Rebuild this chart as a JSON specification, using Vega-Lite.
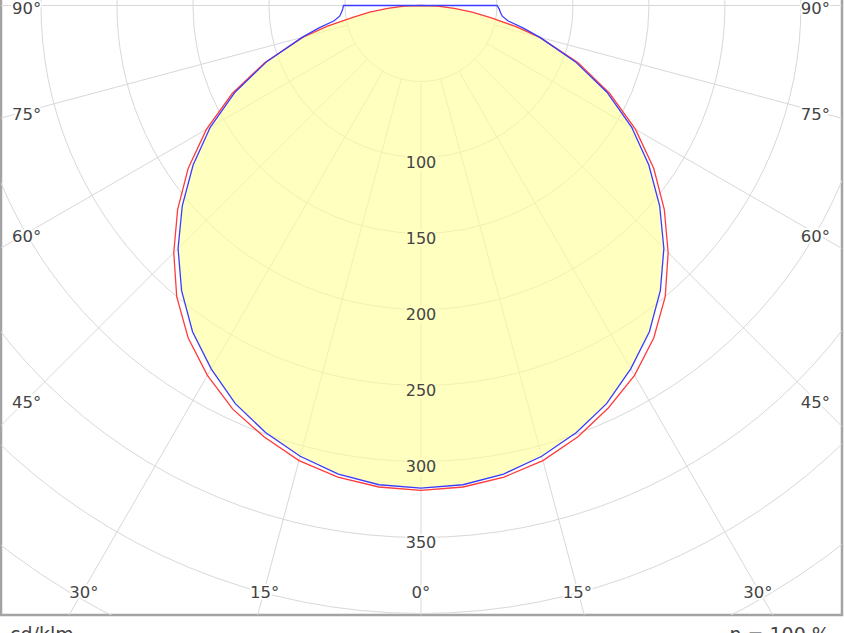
{
  "$schema": "https://vega.github.io/schema/vega-lite/v6.json",
  "width": 841,
  "height": 617,
  "autosize": "none",
  "padding": {"left": 1, "top": -2, "right": 2, "bottom": 18},
  "background": "white",
  "config": {"view": {"stroke": "#a3a3a3", "strokeWidth": 2.5}, "font": "DejaVu Sans"},
  "datasets": {
    "ldc": [
      {"series": "C0-C180", "angle": -90, "cd": 0},
      {"series": "C0-C180", "angle": -87.5, "cd": 11},
      {"series": "C0-C180", "angle": -85, "cd": 22},
      {"series": "C0-C180", "angle": -82.5, "cd": 34},
      {"series": "C0-C180", "angle": -80, "cd": 46},
      {"series": "C0-C180", "angle": -77.5, "cd": 63},
      {"series": "C0-C180", "angle": -75, "cd": 80},
      {"series": "C0-C180", "angle": -70, "cd": 109},
      {"series": "C0-C180", "angle": -65, "cd": 137},
      {"series": "C0-C180", "angle": -60, "cd": 163},
      {"series": "C0-C180", "angle": -55, "cd": 187},
      {"series": "C0-C180", "angle": -50, "cd": 209},
      {"series": "C0-C180", "angle": -45, "cd": 230},
      {"series": "C0-C180", "angle": -40, "cd": 250},
      {"series": "C0-C180", "angle": -35, "cd": 267},
      {"series": "C0-C180", "angle": -30, "cd": 281},
      {"series": "C0-C180", "angle": -25, "cd": 293},
      {"series": "C0-C180", "angle": -20, "cd": 302},
      {"series": "C0-C180", "angle": -15, "cd": 310},
      {"series": "C0-C180", "angle": -10, "cd": 315},
      {"series": "C0-C180", "angle": -5, "cd": 318},
      {"series": "C0-C180", "angle": 0, "cd": 319},
      {"series": "C0-C180", "angle": 5, "cd": 318},
      {"series": "C0-C180", "angle": 10, "cd": 315},
      {"series": "C0-C180", "angle": 15, "cd": 310},
      {"series": "C0-C180", "angle": 20, "cd": 302},
      {"series": "C0-C180", "angle": 25, "cd": 292},
      {"series": "C0-C180", "angle": 30, "cd": 281},
      {"series": "C0-C180", "angle": 35, "cd": 267},
      {"series": "C0-C180", "angle": 40, "cd": 250},
      {"series": "C0-C180", "angle": 45, "cd": 230},
      {"series": "C0-C180", "angle": 50, "cd": 209},
      {"series": "C0-C180", "angle": 55, "cd": 187},
      {"series": "C0-C180", "angle": 60, "cd": 163},
      {"series": "C0-C180", "angle": 65, "cd": 137},
      {"series": "C0-C180", "angle": 70, "cd": 110},
      {"series": "C0-C180", "angle": 75, "cd": 81},
      {"series": "C0-C180", "angle": 77.5, "cd": 64},
      {"series": "C0-C180", "angle": 80, "cd": 47},
      {"series": "C0-C180", "angle": 82.5, "cd": 34},
      {"series": "C0-C180", "angle": 85, "cd": 22},
      {"series": "C0-C180", "angle": 87.5, "cd": 11},
      {"series": "C0-C180", "angle": 90, "cd": 0},
      {"series": "C90-C270", "angle": -90, "cd": 51},
      {"series": "C90-C270", "angle": -87.5, "cd": 51.5},
      {"series": "C90-C270", "angle": -85, "cd": 52.5},
      {"series": "C90-C270", "angle": -82.5, "cd": 54},
      {"series": "C90-C270", "angle": -80, "cd": 58},
      {"series": "C90-C270", "angle": -77.5, "cd": 69},
      {"series": "C90-C270", "angle": -75, "cd": 81},
      {"series": "C90-C270", "angle": -70, "cd": 108},
      {"series": "C90-C270", "angle": -65, "cd": 135},
      {"series": "C90-C270", "angle": -60, "cd": 160},
      {"series": "C90-C270", "angle": -55, "cd": 183},
      {"series": "C90-C270", "angle": -50, "cd": 205},
      {"series": "C90-C270", "angle": -45, "cd": 226},
      {"series": "C90-C270", "angle": -40, "cd": 245},
      {"series": "C90-C270", "angle": -35, "cd": 262},
      {"series": "C90-C270", "angle": -30, "cd": 276},
      {"series": "C90-C270", "angle": -25, "cd": 289},
      {"series": "C90-C270", "angle": -20, "cd": 299},
      {"series": "C90-C270", "angle": -15, "cd": 307},
      {"series": "C90-C270", "angle": -10, "cd": 313},
      {"series": "C90-C270", "angle": -5, "cd": 316.5},
      {"series": "C90-C270", "angle": 0, "cd": 317.5},
      {"series": "C90-C270", "angle": 5, "cd": 316.5},
      {"series": "C90-C270", "angle": 10, "cd": 313},
      {"series": "C90-C270", "angle": 15, "cd": 307},
      {"series": "C90-C270", "angle": 20, "cd": 299},
      {"series": "C90-C270", "angle": 25, "cd": 289},
      {"series": "C90-C270", "angle": 30, "cd": 276},
      {"series": "C90-C270", "angle": 35, "cd": 262},
      {"series": "C90-C270", "angle": 40, "cd": 245},
      {"series": "C90-C270", "angle": 45, "cd": 226},
      {"series": "C90-C270", "angle": 50, "cd": 205},
      {"series": "C90-C270", "angle": 55, "cd": 183},
      {"series": "C90-C270", "angle": 60, "cd": 160},
      {"series": "C90-C270", "angle": 65, "cd": 135},
      {"series": "C90-C270", "angle": 70, "cd": 108},
      {"series": "C90-C270", "angle": 75, "cd": 81},
      {"series": "C90-C270", "angle": 77.5, "cd": 69},
      {"series": "C90-C270", "angle": 80, "cd": 58},
      {"series": "C90-C270", "angle": 82.5, "cd": 54},
      {"series": "C90-C270", "angle": 85, "cd": 52.5},
      {"series": "C90-C270", "angle": 87.5, "cd": 51.5},
      {"series": "C90-C270", "angle": 90, "cd": 50}
    ],
    "rings": [{"r": 50}, {"r": 100}, {"r": 150}, {"r": 200}, {"r": 250}, {"r": 300}, {"r": 350}, {"r": 400}, {"r": 450}, {"r": 500}],
    "spokes": [{"angle": -90}, {"angle": -75}, {"angle": -60}, {"angle": -45}, {"angle": -30}, {"angle": -15}, {"angle": 0}, {"angle": 15}, {"angle": 30}, {"angle": 45}, {"angle": 60}, {"angle": 75}, {"angle": 90}],
    "angleLabels": [
      {"angle": -90, "label": "90°"}, {"angle": -75, "label": "75°"}, {"angle": -60, "label": "60°"}, {"angle": -45, "label": "45°"}, {"angle": -30, "label": "30°"}, {"angle": -15, "label": "15°"}, {"angle": 0, "label": "0°"},
      {"angle": 15, "label": "15°"}, {"angle": 30, "label": "30°"}, {"angle": 45, "label": "45°"}, {"angle": 60, "label": "60°"}, {"angle": 75, "label": "75°"}, {"angle": 90, "label": "90°"}
    ],
    "ringLabels": [{"r": 100, "label": "100"}, {"r": 150, "label": "150"}, {"r": 200, "label": "200"}, {"r": 250, "label": "250"}, {"r": 300, "label": "300"}, {"r": 350, "label": "350"}]
  },
  "layer": [
    {
      "data": {"name": "rings"},
      "mark": {"type": "point", "shape": "circle", "filled": false, "stroke": "#d8d8d8", "strokeWidth": 1, "opacity": 1, "clip": true},
      "encoding": {
        "x": {"datum": 0, "type": "quantitative", "scale": {"domain": [-276.3, 277.0], "nice": false, "zero": false}, "axis": null},
        "y": {"datum": 0, "type": "quantitative", "scale": {"domain": [-4.93, 401], "reverse": true, "nice": false, "zero": false}, "axis": null},
        "size": {"field": "r", "type": "quantitative", "scale": {"type": "pow", "exponent": 2, "domain": [0, 400], "range": [0, 1478656], "zero": true}, "legend": null}
      }
    },
    {
      "data": {"name": "spokes"},
      "transform": [
        {"calculate": "50 * sin(datum.angle * PI / 180)", "as": "x1"},
        {"calculate": "50 * cos(datum.angle * PI / 180)", "as": "y1"},
        {"calculate": "1500 * sin(datum.angle * PI / 180)", "as": "x2"},
        {"calculate": "1500 * cos(datum.angle * PI / 180)", "as": "y2"}
      ],
      "mark": {"type": "rule", "stroke": "#d8d8d8", "strokeWidth": 1, "clip": true},
      "encoding": {
        "x": {"field": "x1", "type": "quantitative", "scale": {"domain": [-276.3, 277.0], "nice": false, "zero": false}, "axis": null},
        "y": {"field": "y1", "type": "quantitative", "scale": {"domain": [-4.93, 401], "reverse": true, "nice": false, "zero": false}, "axis": null},
        "x2": {"field": "x2"},
        "y2": {"field": "y2"}
      }
    },
    {
      "data": {"name": "ldc"},
      "transform": [
        {"aggregate": [{"op": "min", "field": "cd", "as": "cd"}], "groupby": ["angle"]},
        {"calculate": "datum.cd * sin(datum.angle * PI / 180)", "as": "X"},
        {"calculate": "datum.cd * cos(datum.angle * PI / 180)", "as": "Y"}
      ],
      "mark": {"type": "line", "fill": "#ffff99", "fillOpacity": 0.62, "strokeWidth": 0, "interpolate": "linear-closed", "clip": true},
      "encoding": {
        "x": {"field": "X", "type": "quantitative", "scale": {"domain": [-276.3, 277.0], "nice": false, "zero": false}, "axis": null},
        "y": {"field": "Y", "type": "quantitative", "scale": {"domain": [-4.93, 401], "reverse": true, "nice": false, "zero": false}, "axis": null},
        "order": {"field": "angle", "type": "quantitative"}
      }
    },
    {
      "data": {"name": "ldc"},
      "transform": [
        {"calculate": "datum.cd * sin(datum.angle * PI / 180)", "as": "X"},
        {"calculate": "datum.cd * cos(datum.angle * PI / 180)", "as": "Y"}
      ],
      "mark": {"type": "line", "strokeWidth": 1.3, "interpolate": "linear-closed", "clip": true},
      "encoding": {
        "x": {"field": "X", "type": "quantitative", "scale": {"domain": [-276.3, 277.0], "nice": false, "zero": false}, "axis": null},
        "y": {"field": "Y", "type": "quantitative", "scale": {"domain": [-4.93, 401], "reverse": true, "nice": false, "zero": false}, "axis": null},
        "color": {"field": "series", "type": "nominal", "scale": {"domain": ["C0-C180", "C90-C270"], "range": ["#ff3b3b", "#3b3bff"]}, "legend": null},
        "order": {"field": "angle", "type": "quantitative"}
      }
    },
    {
      "data": {"name": "ringLabels"},
      "mark": {"type": "text", "fontSize": 16, "baseline": "middle", "align": "center", "dy": 6, "strokeWidth": 4, "strokeJoin": "round"},
      "encoding": {
        "x": {"datum": 0, "type": "quantitative", "scale": {"domain": [-276.3, 277.0], "nice": false, "zero": false}, "axis": null},
        "y": {"field": "r", "type": "quantitative", "scale": {"domain": [-4.93, 401], "reverse": true, "nice": false, "zero": false}, "axis": null},
        "text": {"field": "label"},
        "stroke": {"condition": {"test": "datum.r <= 300", "value": "#ffffc2"}, "value": "#ffffff"},
        "fill": {"condition": {"test": "datum.r <= 300", "value": "#ffffc2"}, "value": "#ffffff"}
      }
    },
    {
      "data": {"name": "ringLabels"},
      "mark": {"type": "text", "fontSize": 16, "baseline": "middle", "align": "center", "dy": 6, "fill": "#444444"},
      "encoding": {
        "x": {"datum": 0, "type": "quantitative", "scale": {"domain": [-276.3, 277.0], "nice": false, "zero": false}, "axis": null},
        "y": {"field": "r", "type": "quantitative", "scale": {"domain": [-4.93, 401], "reverse": true, "nice": false, "zero": false}, "axis": null},
        "text": {"field": "label"}
      }
    },
    {
      "data": {"name": "angleLabels"},
      "transform": [
        {"calculate": "abs(datum.angle) >= 35 ? (datum.angle < 0 ? -259.5 : 259.5) : 384 * tan(datum.angle * PI / 180)", "as": "X"},
        {"calculate": "abs(datum.angle) >= 35 ? 259.5 / tan(abs(datum.angle) * PI / 180) : 384", "as": "Y"}
      ],
      "mark": {"type": "text", "fontSize": 16.5, "baseline": "middle", "align": "center", "dy": 3.5, "fill": "#ffffff", "stroke": "#ffffff", "strokeWidth": 4, "strokeJoin": "round"},
      "encoding": {
        "x": {"field": "X", "type": "quantitative", "scale": {"domain": [-276.3, 277.0], "nice": false, "zero": false}, "axis": null},
        "y": {"field": "Y", "type": "quantitative", "scale": {"domain": [-4.93, 401], "reverse": true, "nice": false, "zero": false}, "axis": null},
        "text": {"field": "label"}
      }
    },
    {
      "data": {"name": "angleLabels"},
      "transform": [
        {"calculate": "abs(datum.angle) >= 35 ? (datum.angle < 0 ? -259.5 : 259.5) : 384 * tan(datum.angle * PI / 180)", "as": "X"},
        {"calculate": "abs(datum.angle) >= 35 ? 259.5 / tan(abs(datum.angle) * PI / 180) : 384", "as": "Y"}
      ],
      "mark": {"type": "text", "fontSize": 16.5, "baseline": "middle", "align": "center", "dy": 3.5, "fill": "#444444"},
      "encoding": {
        "x": {"field": "X", "type": "quantitative", "scale": {"domain": [-276.3, 277.0], "nice": false, "zero": false}, "axis": null},
        "y": {"field": "Y", "type": "quantitative", "scale": {"domain": [-4.93, 401], "reverse": true, "nice": false, "zero": false}, "axis": null},
        "text": {"field": "label"}
      }
    },
    {
      "data": {"values": [{"label": "cd/klm"}]},
      "mark": {"type": "text", "fontSize": 19, "baseline": "alphabetic", "align": "left", "fill": "#444444", "clip": false},
      "encoding": {
        "x": {"datum": -270.4, "type": "quantitative", "scale": {"domain": [-276.3, 277.0], "nice": false, "zero": false}, "axis": null},
        "y": {"datum": 418, "type": "quantitative", "scale": {"domain": [-4.93, 401], "reverse": true, "nice": false, "zero": false}, "axis": null},
        "text": {"field": "label"}
      }
    },
    {
      "data": {"values": [{"label": "η = 100 %"}]},
      "mark": {"type": "text", "fontSize": 19, "baseline": "alphabetic", "align": "right", "fill": "#444444", "clip": false},
      "encoding": {
        "x": {"datum": 269, "type": "quantitative", "scale": {"domain": [-276.3, 277.0], "nice": false, "zero": false}, "axis": null},
        "y": {"datum": 418, "type": "quantitative", "scale": {"domain": [-4.93, 401], "reverse": true, "nice": false, "zero": false}, "axis": null},
        "text": {"field": "label"}
      }
    }
  ]
}
